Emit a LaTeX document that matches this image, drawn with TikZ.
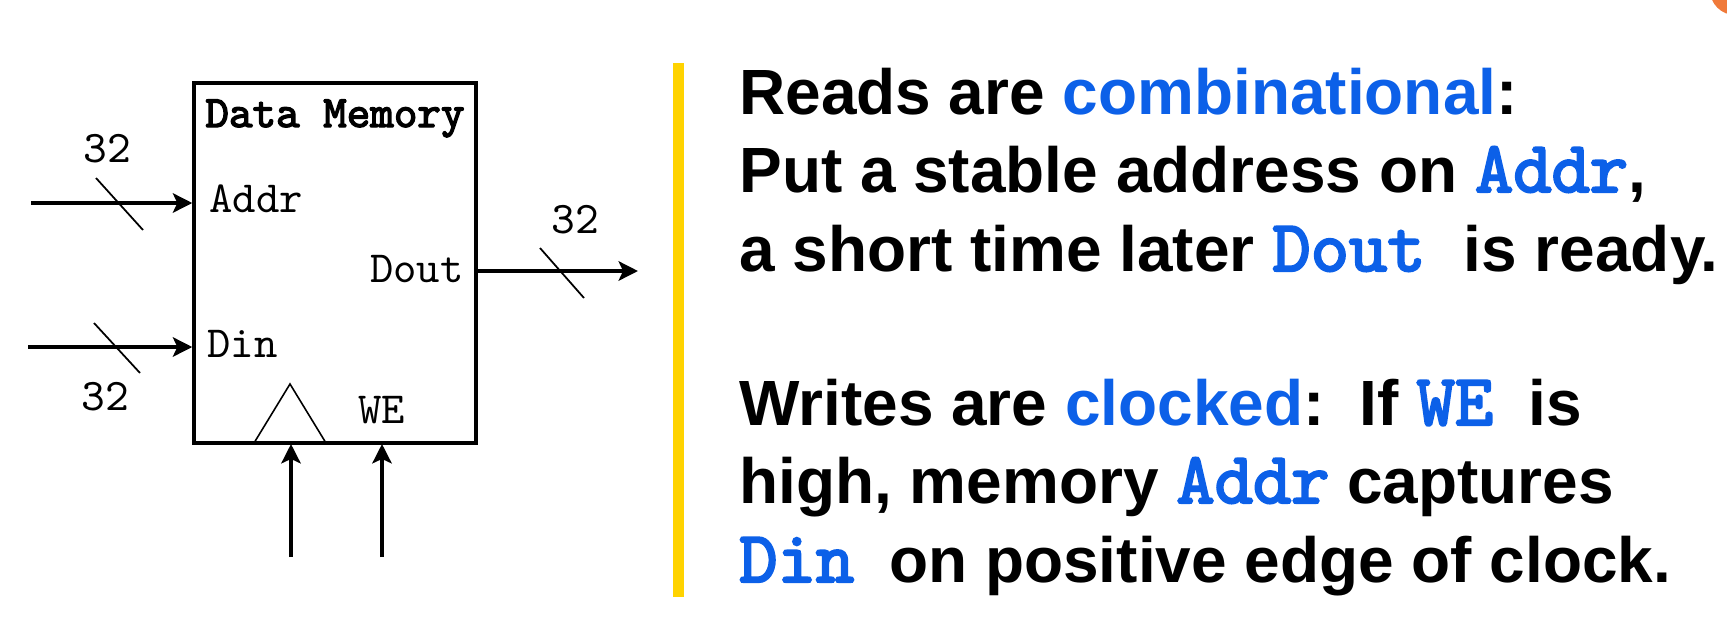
\documentclass[tikz,border=0pt]{standalone}
\usepackage{fontspec}
\setmainfont{Liberation Sans}
\setmonofont{lmmono10-regular.otf}[Scale=1.14]
\newfontfamily\codefont{lmmono10-regular.otf}[Scale=1.14, FakeBold=3]
\usetikzlibrary{arrows.meta}
\definecolor{hilite}{RGB}{12,96,232}
\definecolor{baryellow}{RGB}{255,211,0}
\definecolor{badge}{RGB}{240,122,58}
\newcommand{\slidefont}{\fontsize{36.4pt}{44pt}\selectfont\bfseries}
\newcommand{\kw}[1]{\textcolor{hilite}{\codefont #1}}
\newcommand{\hl}[1]{\textcolor{hilite}{#1}}
\tikzset{
  port/.style={font=\ttfamily\fontsize{22.2pt}{26pt}\selectfont, inner sep=0pt},
  width/.style={font=\ttfamily\fontsize{22.6pt}{26pt}\selectfont, inner sep=0pt},
  sig/.style={line width=2.1pt, -{Stealth[length=11pt,width=11pt,inset=2.5pt]}},
  busmark/.style={line width=1pt},
  textline/.style={anchor=base west, inner sep=0pt, font=\slidefont},
}
\begin{document}
\begin{tikzpicture}[x=0.02cm,y=-0.02cm]
\useasboundingbox (0,0) rectangle (1727,616);

% memory block
\node (mem) [draw, line width=2pt, minimum width=5.64cm, minimum height=7.2cm, inner sep=0pt] at (335,263) {};
\node (title) [anchor=base, inner sep=0pt, font=\codefont\fontsize{22.4pt}{26pt}\selectfont] at (335,127) {Data Memory};

% port labels
\node (addr) [port, anchor=base west] at (209,212) {Addr};
\node (din)  [port, anchor=base west] at (207,357) {Din};
\node (dout) [port, anchor=base east] at (464,282) {Dout};
\node (we)   [port, anchor=base west] at (358,423) {WE};

% clock input triangle
\filldraw[fill=white, line width=0.9pt] (254,443) -- (290,384) -- (326,443);
\draw[line width=2pt] (254,443) -- (326,443);

% signal wires
\coordinate (addrsrc) at (31,203);
\coordinate (dinsrc)  at (28,347);
\coordinate (doutsnk) at (638,271);
\coordinate (clksrc)  at (291,557);
\coordinate (wesrc)   at (382,557);
\coordinate (clkpin)  at (291,444);
\coordinate (wepin)   at (382,444);

\draw[sig] (addrsrc) -- (mem.west |- addrsrc);
\draw[sig] (dinsrc) -- (mem.west |- dinsrc);
\draw[sig] (mem.east |- doutsnk) -- (doutsnk);
\draw[sig] (clksrc) -- (clkpin);
\draw[sig] (wesrc) -- (wepin);

% bus width marks
\draw[busmark] (96,178) -- (143,230);
\draw[busmark] (94,323) -- (140,373);
\draw[busmark] (540,248) -- (584,298);
\node (waddr) [width, anchor=base] at (107,162) {32};
\node (wdin)  [width, anchor=base] at (105,410) {32};
\node (wdout) [width, anchor=base] at (575,233) {32};

% divider
\fill[baryellow] (673,63) rectangle (684,597);

% explanation text
\node (l1) [textline] at (739,114) {Reads are \hl{combinational}:};
\node (l2) [textline] at (739,192) {Put a stable address on \kw{Addr},};
\node (l3) [textline] at (739,271) {a short time later \kw{Dout}\hspace{0.6em}is ready.};
\node (l4) [textline] at (739,425) {Writes are \hl{clocked}:\hspace{0.55em}If \kw{WE}\hspace{0.55em}is};
\node (l5) [textline] at (739,503) {high, memory \kw{Addr} captures};
\node (l6) [textline] at (739,582) {\kw{Din}\hspace{0.55em}on positive edge of clock.};

% corner badge
\fill[badge] (1735,-10) circle[radius=0.5cm];
\end{tikzpicture}
\end{document}
